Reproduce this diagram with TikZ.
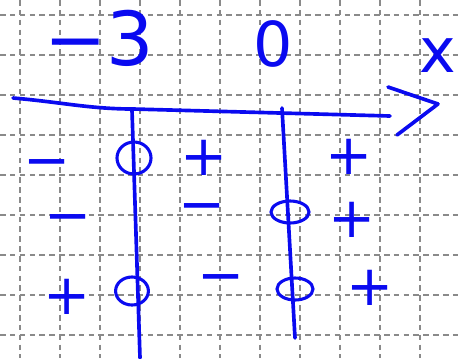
\documentclass[tikz,border=0pt]{standalone}
\usepackage{fontspec}
\setmainfont{DejaVu Sans}
\usetikzlibrary{shapes.geometric}
\definecolor{Ink_Blue}{HTML}{0A0AF0}
\definecolor{Grid_Gray}{HTML}{8A8A8A}

\begin{document}
\begin{tikzpicture}[x=0.025cm, y=-0.025cm,
    grid/.style={Grid_Gray, line width=1pt, dash pattern=on 4pt off 3pt},
    ink/.style={Ink_Blue, line width=2.6pt, line cap=round, line join=round},
    hole/.style={ellipse, draw=Ink_Blue, line width=2.2pt, inner sep=0pt},
    sign/.style={Ink_Blue, font=\fontsize{40}{40}\selectfont, inner sep=0pt, anchor=base, yshift=-12.5pt}]
    \useasboundingbox (0,0) rectangle (460,358);

    % Squared paper
    \foreach \gx in {20,60,...,420} \draw[grid] (\gx,0) -- (\gx,358);
    \foreach \gy in {15,55,...,335} \draw[grid] (0,\gy) -- (460,\gy);

    % Critical values and variable
    \node[Ink_Blue, inner sep=0pt, font=\fontsize{53}{53}\selectfont] (m3) at (99,38) {−3};
    \node[Ink_Blue, inner sep=0pt, font=\fontsize{44}{44}\selectfont] (z0) at (273,44) {0};
    \node[Ink_Blue, inner sep=0pt, font=\fontsize{44}{44}\selectfont] (xv) at (438,56) {x};

    % Number line with open arrow
    \coordinate (ax0) at (13,98);
    \coordinate (ax1) at (390,116);
    \coordinate (tip) at (438,104);
    \draw[ink] (ax0) .. controls (60,102) and (90,109) .. (133,109) -- (ax1);
    \draw[ink] (388,87) -- (tip) -- (397,135);

    % Dividers below -3 and 0
    \coordinate (t1) at (132,110);
    \coordinate (b1) at (140,358);
    \coordinate (t2) at (282,108);
    \coordinate (b2) at (295,338);
    \draw[ink] (t1) -- (b1);
    \draw[ink] (t2) -- (b2);

    % Zeros of each factor
    \node[hole, minimum width=0.85cm, minimum height=0.8cm] (h1) at (134,158) {};
    \node[hole, minimum width=0.82cm, minimum height=0.7cm] (h3) at (132,291) {};
    \node[hole, minimum width=0.95cm, minimum height=0.55cm] (h2) at (290,212) {};
    \node[hole, minimum width=0.9cm, minimum height=0.55cm] (h4) at (295,289) {};

    % Signs, row by row
    \node[sign] (s11) at (47,162) {−};
    \node[sign] (s12) at (204,158) {+};
    \node[sign] (s13) at (349,157) {+};
    \node[sign] (s21) at (68,217) {−};
    \node[sign] (s22) at (202,206) {−};
    \node[sign] (s23) at (352,220) {+};
    \node[sign] (s31) at (67,297) {+};
    \node[sign] (s32) at (221,277) {−};
    \node[sign] (s33) at (370,288) {+};
\end{tikzpicture}
\end{document}
